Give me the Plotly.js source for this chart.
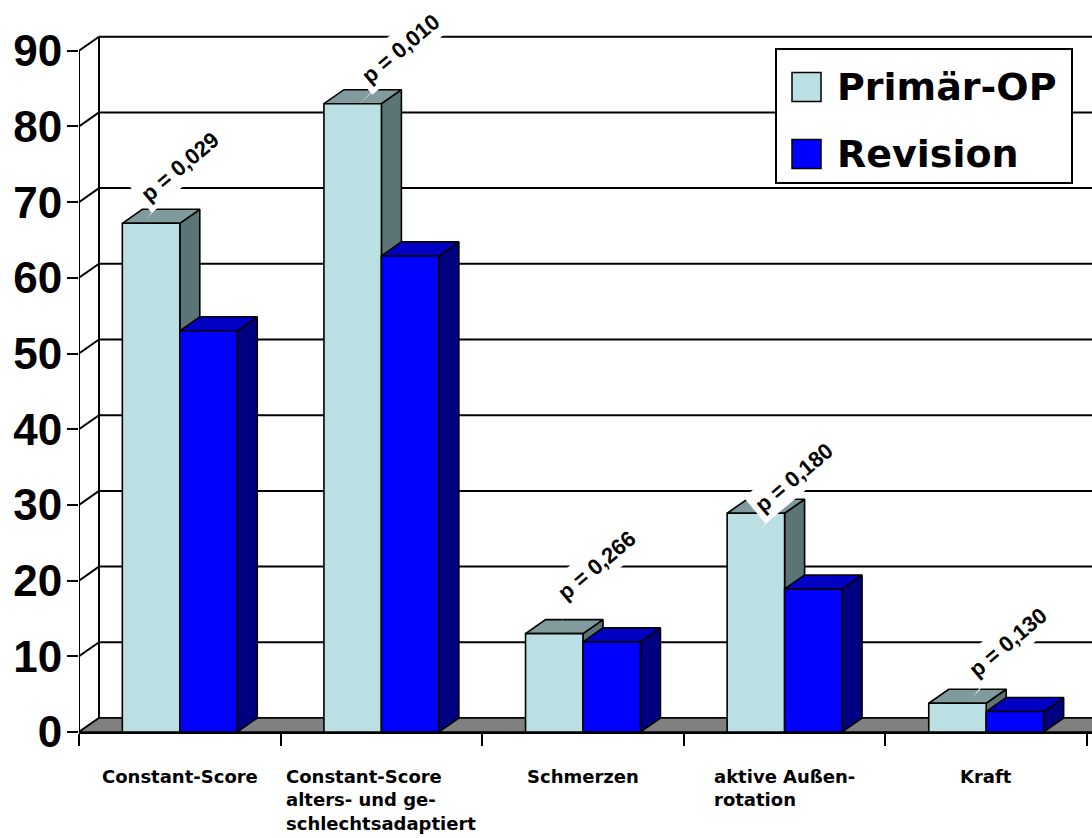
<!DOCTYPE html>
<html>
<head>
<meta charset="utf-8">
<script src="https://cdn.plot.ly/plotly-3.0.1.min.js"></script>
<style>
  html, body { margin: 0; padding: 0; background: #ffffff; }
  #chart { width: 1092px; height: 838px; }
</style>
</head>
<body>
<div id="chart"></div>
<script>
// ---- data ----
const categories = [
  'Constant-Score',
  'Constant-Score<br>alters- und ge-<br>schlechtsadaptiert',
  'Schmerzen',
  'aktive Außen-<br>rotation',
  'Kraft'
];
const seriesNames = ['Primär-OP', 'Revision'];
const primaer = [67.2, 83.0, 13.0, 28.9, 3.8];
const revision = [53.0, 62.9, 11.9, 18.9, 2.7];
const pValues = ['p = 0,029', 'p = 0,010', 'p = 0,266', 'p = 0,180', 'p = 0,130'];
const yTicks = [0, 10, 20, 30, 40, 50, 60, 70, 80, 90];

// ---- page geometry ----
const W = 1092, H = 838;
const ML = 79, MB = 106;
const PX_PER_CAT = 201.6;
const PX_PER_UNIT = 7.57;
const X_MIN = -0.5;
const X_MAX = X_MIN + (W - ML) / PX_PER_CAT;
const Y_MAX = (H - MB) / PX_PER_UNIT;
const DX = 20 / PX_PER_CAT;      // depth offset to the right
const DY = 14 / PX_PER_UNIT;     // depth offset upwards
const BW = 0.285;                // bar width in category units
const FAR = X_MAX + 1;

// callout placement, pixels from the front-left top corner of each Primär-OP bar
// (c = label centre, t = pointer tip; y grows downwards)
const calloutPlacement = [
  { c: [58, -57], t: [25, -5] },
  { c: [77, -55], t: [35, 1] },
  { c: [71, -68], t: [35, -12] },
  { c: [67, -36], t: [34, 16] },
  { c: [79, -61], t: [44, -6] }
];
const TEXT_ANGLE = -40;

// ---- colours ----
const faceColors = [
  { front: '#bbe0e4', top: '#7f9b9e', side: '#5b7476' },
  { front: '#0000ff', top: '#0000c4', side: '#000080' }
];

function poly(polys, fill, lw) {
  const x = [], y = [];
  polys.forEach(p => {
    p.forEach(pt => { x.push(pt[0]); y.push(pt[1]); });
    x.push(p[0][0]); y.push(p[0][1]);
    x.push(null); y.push(null);
  });
  return {
    type: 'scatter', mode: 'lines', x, y,
    fill: 'toself', fillcolor: fill,
    line: { color: '#000000', width: lw === undefined ? 1.6 : lw },
    hoverinfo: 'skip', showlegend: false
  };
}

function lines(segs, width) {
  const x = [], y = [];
  segs.forEach(s => {
    x.push(s[0][0], s[1][0], null);
    y.push(s[0][1], s[1][1], null);
  });
  return {
    type: 'scatter', mode: 'lines', x, y,
    line: { color: '#000000', width: width },
    hoverinfo: 'skip', showlegend: false
  };
}

const traces = [];

// back wall gridlines
traces.push(lines(yTicks.map(v => [[X_MIN + DX, v + DY], [FAR, v + DY]]), 2));

// side wall: front axis, back edge and connecting diagonals
const wallSegs = [
  [[X_MIN, 0], [X_MIN, yTicks[yTicks.length - 1]]],
  [[X_MIN + DX, DY], [X_MIN + DX, yTicks[yTicks.length - 1] + DY]]
];
yTicks.forEach(v => wallSegs.push([[X_MIN, v], [X_MIN + DX, v + DY]]));
traces.push(lines(wallSegs, 2));

// floor
traces.push(poly([[[X_MIN, 0], [FAR, 0], [FAR + DX, DY], [X_MIN + DX, DY]]], '#808080', 1.6));

// bars as 3D blocks: side, top, front per series
[primaer, revision].forEach((vals, s) => {
  const side = [], top = [], front = [];
  vals.forEach((h, i) => {
    const xl = i - BW + s * BW;
    const xr = xl + BW;
    front.push([[xl, 0], [xr, 0], [xr, h], [xl, h]]);
    top.push([[xl, h], [xr, h], [xr + DX, h + DY], [xl + DX, h + DY]]);
    side.push([[xr, 0], [xr + DX, DY], [xr + DX, h + DY], [xr, h]]);
  });
  traces.push(poly(side, faceColors[s].side));
  traces.push(poly(top, faceColors[s].top));
  traces.push(poly(front, faceColors[s].front));
});

// ---- annotations & shapes ----
const px2x = px => (px - ML) / (W - ML);
const px2y = py => (H - MB - py) / (H - MB);

const annotations = [];
const shapes = [];

// p-value callouts above the Primär-OP bars
const rad = TEXT_ANGLE * Math.PI / 180;
const u = [Math.cos(rad), -Math.sin(rad)];   // along the text, y up
const n = [-u[1], u[0]];                       // normal, pointing up
pValues.forEach((txt, i) => {
  const pl = calloutPlacement[i];
  const cx = pl.c[0], cy = -pl.c[1];
  const tx = pl.t[0], ty = -pl.t[1];
  const b1 = [cx - 12 * n[0] - 30 * u[0], cy - 12 * n[1] - 30 * u[1]];
  const b2 = [cx - 12 * n[0] - 8 * u[0], cy - 12 * n[1] - 8 * u[1]];
  shapes.push({
    type: 'path', layer: 'above',
    xref: 'x', yref: 'y', xsizemode: 'pixel', ysizemode: 'pixel',
    xanchor: i - BW, yanchor: primaer[i],
    path: `M${tx},${ty} L${b1[0].toFixed(1)},${b1[1].toFixed(1)} L${b2[0].toFixed(1)},${b2[1].toFixed(1)} Z`,
    fillcolor: '#ffffff', line: { width: 0 }
  });
  annotations.push({
    x: i - BW, y: primaer[i], xref: 'x', yref: 'y',
    text: txt, showarrow: false,
    xshift: cx, yshift: cy, textangle: TEXT_ANGLE,
    bgcolor: '#ffffff', borderpad: 4,
    font: { family: 'Liberation Sans, Arial, sans-serif', size: 22, weight: 700, color: '#000000' }
  });
});

// category labels
categories.forEach((c, i) => {
  annotations.push({
    x: i, y: 0, xref: 'x', yref: 'y',
    text: c, showarrow: false,
    xanchor: 'center', yanchor: 'top', align: 'left',
    yshift: -32,
    font: { family: 'DejaVu Sans, sans-serif', size: 18, weight: 700, color: '#000000' }
  });
});

// legend box
shapes.push({
  type: 'rect', xref: 'paper', yref: 'paper', layer: 'above',
  x0: px2x(776), x1: px2x(1072), y0: px2y(183), y1: px2y(49),
  fillcolor: '#ffffff', line: { color: '#000000', width: 2 }
});
const legendRows = [87, 154];
seriesNames.forEach((name, s) => {
  const cy = legendRows[s];
  shapes.push({
    type: 'rect', xref: 'paper', yref: 'paper', layer: 'above',
    x0: px2x(792), x1: px2x(821), y0: px2y(cy + 14.5), y1: px2y(cy - 14.5),
    fillcolor: faceColors[s].front, line: { color: '#000000', width: 1.5 }
  });
  annotations.push({
    x: px2x(835), y: px2y(cy), xref: 'paper', yref: 'paper',
    xanchor: 'left', yanchor: 'middle',
    text: name, showarrow: false,
    font: { family: 'DejaVu Sans, sans-serif', size: 38, weight: 700, color: '#000000' }
  });
});

const layout = {
  width: W, height: H,
  margin: { l: ML, r: 0, t: 0, b: MB, pad: 0 },
  paper_bgcolor: '#ffffff', plot_bgcolor: '#ffffff',
  showlegend: false,
  xaxis: {
    range: [X_MIN, X_MAX], fixedrange: true,
    showgrid: false, zeroline: false,
    showline: true, linecolor: '#000000', linewidth: 2,
    tickmode: 'array', tickvals: [-0.5, 0.5, 1.5, 2.5, 3.5, 4.5],
    ticks: 'outside', ticklen: 12, tickwidth: 2, tickcolor: '#000000',
    showticklabels: false, automargin: false
  },
  yaxis: {
    range: [0, Y_MAX], fixedrange: true,
    showgrid: false, zeroline: false, showline: false,
    tickmode: 'array', tickvals: yTicks, ticktext: yTicks.map(String),
    ticks: 'outside', ticklen: 11, tickwidth: 2, tickcolor: '#000000',
    ticklabelstandoff: -4,
    tickfont: { family: 'Liberation Sans, Arial, sans-serif', size: 44, weight: 700, color: '#000000' },
    automargin: false
  },
  annotations, shapes
};

Plotly.newPlot('chart', traces, layout, { displayModeBar: false, staticPlot: true });
</script>
</body>
</html>
